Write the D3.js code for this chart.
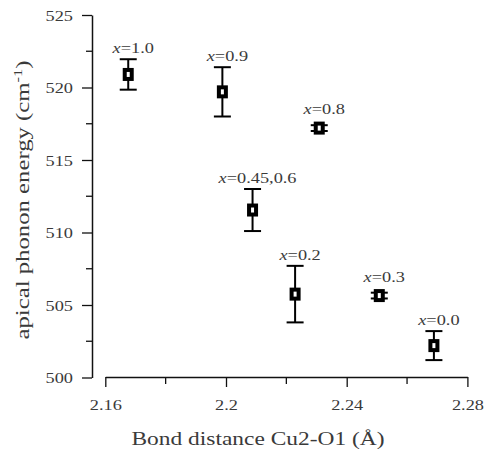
<!DOCTYPE html>
<html><head><meta charset="utf-8">
<script src="https://cdn.jsdelivr.net/npm/d3@7"></script>
<style>
html,body{margin:0;padding:0;background:#fff;}
svg text{font-family:"Liberation Serif","Times New Roman",serif;}
</style></head>
<body><svg id="c" width="486" height="452"></svg>
<script>
const bondDistance = [2.1676, 2.1988, 2.2309, 2.2088, 2.2229, 2.2508, 2.2689];
const phononEnergy = [520.9, 519.7, 517.2, 511.55, 505.75, 505.65, 502.2];
const energyError  = [1.05, 1.7, 0.2, 1.45, 1.95, 0.2, 1.0];
const dopingLabels = ["1.0", "0.9", "0.8", "0.45,0.6", "0.2", "0.3", "0.0"];
const xTickValues = [2.16, 2.2, 2.24, 2.28];
const xTickLabels = ["2.16", "2.2", "2.24", "2.28"];
const xMinorTicks = [2.18, 2.22, 2.26];
const yTickValues = [500, 505, 510, 515, 520, 525];
const yMinorTicks = [502.5, 507.5, 512.5, 517.5, 522.5];
const xTitle = "Bond distance Cu2-O1 (Å)";
const yTitle = "apical phonon energy (cm";

const STRETCH = 1.22;
const TXT = "#3a3a3a";
const svg = d3.select("#c");
const x = d3.scaleLinear().domain([2.16, 2.28]).range([105.3, 467.4]);
const y = d3.scaleLinear().domain([500, 525]).range([377.5, 15]);

function stretch(sel, f) {
  sel.each(function(){
    const w = this.getComputedTextLength();
    this.setAttribute("textLength", w * (f || STRETCH));
    this.setAttribute("lengthAdjust", "spacingAndGlyphs");
  });
}

// Y axis
const yAxis = svg.append("g").attr("transform", "translate(92,0)")
  .call(d3.axisLeft(y).tickValues(yTickValues).tickSize(10).tickPadding(9).tickSizeOuter(0));
yAxis.select(".domain").attr("stroke", "#111").attr("stroke-width", 1.5);
yAxis.selectAll(".tick line").attr("stroke", "#111").attr("stroke-width", 1.3);
yAxis.selectAll("text").attr("font-size", 15).attr("fill", TXT).attr("dy", "0.34em");
stretch(yAxis.selectAll("text"));
yAxis.append("g").selectAll("line").data(yMinorTicks).join("line")
  .attr("x1", -6).attr("x2", 0).attr("y1", d => y(d)).attr("y2", d => y(d))
  .attr("stroke", "#111").attr("stroke-width", 1.3);

// X axis
const xAxis = svg.append("g").attr("transform", "translate(0,377)")
  .call(d3.axisBottom(x).tickValues(xTickValues).tickFormat((d,i) => xTickLabels[i])
    .tickSize(10).tickPadding(12).tickSizeOuter(0));
xAxis.select(".domain").attr("stroke", "#111").attr("stroke-width", 1.5);
xAxis.selectAll(".tick line").attr("stroke", "#111").attr("stroke-width", 1.3);
xAxis.selectAll("text").attr("font-size", 15).attr("fill", TXT);
stretch(xAxis.selectAll("text"));
xAxis.append("g").selectAll("line").data(xMinorTicks).join("line")
  .attr("x1", d => x(d)).attr("x2", d => x(d)).attr("y1", 0).attr("y2", 7)
  .attr("stroke", "#111").attr("stroke-width", 1.3);

// Titles
const xt = svg.append("text").attr("x", 258).attr("y", 445).attr("fill", TXT)
  .attr("text-anchor", "middle").attr("font-size", 18).text(xTitle);
xt.attr("textLength", 253).attr("lengthAdjust", "spacingAndGlyphs");

const yt = svg.append("text").attr("transform", "translate(29,200) rotate(-90)").attr("fill", TXT)
  .attr("text-anchor", "middle").attr("font-size", 18);
yt.append("tspan").text(yTitle);
yt.append("tspan").attr("font-size", 12).attr("dy", -7).text("-1");
yt.append("tspan").attr("dy", 7).text(")");
yt.attr("textLength", 279).attr("lengthAdjust", "spacingAndGlyphs");

// Data
const pts = bondDistance.map((d, i) => ({bx: d, e: phononEnergy[i], err: energyError[i], lab: dopingLabels[i]}));
const g = svg.append("g");
const cap = 8.5;
pts.forEach(p => {
  const cx = x(p.bx), top = y(p.e + p.err), bot = y(p.e - p.err);
  g.append("line").attr("x1", cx).attr("x2", cx).attr("y1", top).attr("y2", bot)
    .attr("stroke", "#000").attr("stroke-width", 2);
  [top, bot].forEach(yy => g.append("line").attr("x1", cx - cap).attr("x2", cx + cap)
    .attr("y1", yy).attr("y2", yy).attr("stroke", "#000").attr("stroke-width", 2));
  g.append("rect").attr("x", cx - 3.5).attr("y", y(p.e) - 4.5).attr("width", 7).attr("height", 9)
    .attr("fill", "#fff").attr("stroke", "#000").attr("stroke-width", 4);
  const t = g.append("text").attr("x", cx + 5).attr("y", Math.min(top, y(p.e) - 8) - 6)
    .attr("text-anchor", "middle").attr("font-size", 15).attr("fill", TXT);
  t.append("tspan").attr("font-style", "italic").text("x");
  t.append("tspan").text("=" + p.lab);
  stretch(t);
});
</script></body></html>
